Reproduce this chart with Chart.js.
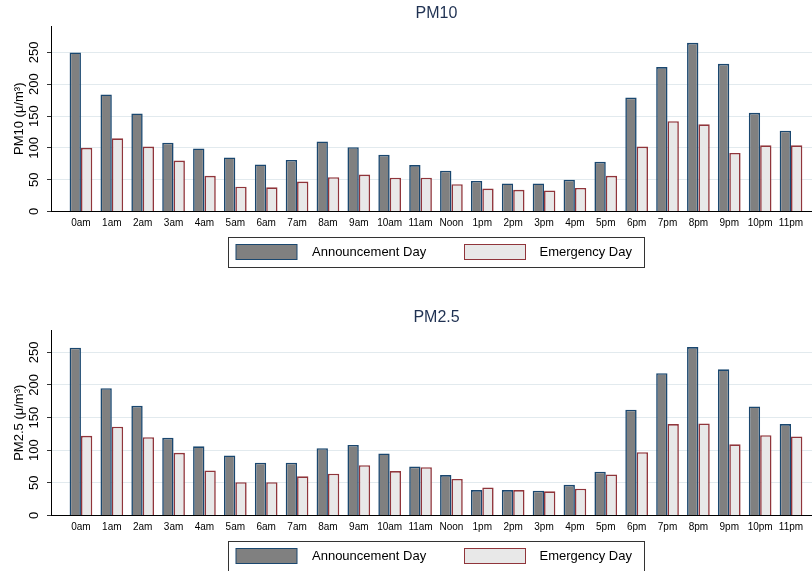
<!DOCTYPE html>
<html>
<head>
<meta charset="utf-8">
<script src="https://cdn.jsdelivr.net/npm/chart.js@4/dist/chart.umd.min.js"></script>
<style>
  html, body { margin: 0; padding: 0; background: #fff; width: 812px; height: 571px; overflow: hidden; }
  canvas { display: block; }
</style>
</head>
<body>
<canvas id="pm10" width="812" height="304"></canvas>
<canvas id="pm25" width="812" height="304"></canvas>
<script>
// Hour-of-day categories
const hours = ['0am','1am','2am','3am','4am','5am','6am','7am','8am','9am','10am','11am',
               'Noon','1pm','2pm','3pm','4pm','5pm','6pm','7pm','8pm','9pm','10pm','11pm'];

// PM10 concentrations (μ/m³)
const pm10Announcement = [250, 184, 154, 108, 99, 85, 74, 81, 110, 101, 89, 73,
                          64, 48, 44, 44, 50, 78, 179, 227, 265, 232, 155, 127];
const pm10Emergency    = [100, 115, 102, 80, 56, 39, 38, 47, 54, 58, 53, 53,
                          43, 36, 34, 33, 37, 56, 102, 142, 137, 92, 104, 104];

// PM2.5 concentrations (μ/m³)
const pm25Announcement = [257, 195, 168, 119, 106, 92, 81, 81, 103, 108, 95, 75,
                          62, 39, 39, 38, 47, 67, 162, 218, 258, 224, 167, 140];
const pm25Emergency    = [122, 136, 120, 96, 69, 51, 51, 60, 64, 77, 68, 74,
                          56, 43, 39, 37, 41, 63, 97, 140, 141, 109, 123, 121];

// Value-axis ticks
const yTicks = [0, 50, 100, 150, 200, 250];

const seriesNames = ['Announcement Day', 'Emergency Day'];

const FONT = '"Liberation Sans", Arial, Helvetica, sans-serif';
const NAVY = '#1a476f';
const MAROON = '#90353b';

// Draws rotated y labels, the heading and the framed legend
const decor = {
  id: 'decor',
  afterDraw(chart, args, opts) {
    const ctx = chart.ctx;
    const area = chart.chartArea;
    const ys = chart.scales.y;
    ctx.save();
    ctx.fillStyle = '#000';
    ctx.textAlign = 'center';
    ctx.textBaseline = 'middle';
    ctx.font = '13px ' + FONT;
    ys.ticks.forEach(t => {
      const py = ys.getPixelForValue(t.value);
      ctx.save();
      ctx.translate(34, py);
      ctx.rotate(-Math.PI / 2);
      ctx.fillText(String(t.value), 0, 0);
      ctx.restore();
    });
    ctx.save();
    ctx.translate(19, (area.top + area.bottom) / 2);
    ctx.rotate(-Math.PI / 2);
    ctx.fillText(opts.yTitle, 0, 0);
    ctx.restore();

    // heading
    ctx.font = '16px ' + FONT;
    ctx.fillStyle = '#1f3152';
    ctx.fillText(opts.title, 436.5, 14);

    // legend frame
    const fx = 228.5, fy = 237.5, fw = 416, fh = 30;
    ctx.strokeStyle = '#333';
    ctx.lineWidth = 1;
    ctx.strokeRect(fx, fy, fw, fh);
    const slots = [{ sx: 7.5, tx: 83.5 }, { sx: 236, tx: 311 }];
    chart.data.datasets.forEach((ds, i) => {
      const s = slots[i];
      ctx.fillStyle = ds.backgroundColor;
      ctx.fillRect(fx + s.sx, fy + 7, 61, 15);
      ctx.strokeStyle = ds.borderColor;
      ctx.lineWidth = 1;
      ctx.strokeRect(fx + s.sx, fy + 7, 61, 15);
      ctx.fillStyle = '#000';
      ctx.font = '13px ' + FONT;
      ctx.textAlign = 'left';
      ctx.fillText(ds.label, fx + s.tx, fy + 15);
    });
    ctx.restore();
  }
};

function makeChart(id, title, yTitle, seriesA, seriesB, yMax) {
  const toPoints = arr => arr.map((v, i) => ({ x: i, y: v }));
  return new Chart(document.getElementById(id), {
    type: 'bar',
    data: {
      datasets: [
        { label: seriesNames[0], data: toPoints(seriesA), backgroundColor: '#808080', borderColor: NAVY, borderWidth: 1.6 },
        { label: seriesNames[1], data: toPoints(seriesB), backgroundColor: '#e8e8e8', borderColor: MAROON, borderWidth: 1.6 }
      ]
    },
    options: {
      responsive: false,
      animation: false,
      devicePixelRatio: 1,
      layout: { padding: { top: 26, bottom: 72.5, left: 0, right: 0 } },
      datasets: { bar: { categoryPercentage: 0.735, barPercentage: 1.0 } },
      plugins: {
        legend: { display: false },
        title: { display: false },
        tooltip: { enabled: false },
        decor: { title, yTitle }
      },
      scales: {
        x: {
          type: 'linear',
          offset: false,
          min: -0.97,
          max: 23.68,
          grid: { display: false, drawTicks: false },
          border: { display: true, color: '#000', width: 1 },
          afterBuildTicks: s => { s.ticks = hours.map((_, i) => ({ value: i })); },
          afterFit: s => { s.height = 20; },
          ticks: {
            autoSkip: false, maxRotation: 0, minRotation: 0, padding: 6,
            color: '#000', font: { family: FONT, size: 10 },
            callback: v => hours[v] ?? ''
          }
        },
        y: {
          min: 0,
          max: yMax,
          afterBuildTicks: s => { s.ticks = yTicks.map(v => ({ value: v })); },
          afterFit: s => { s.width = 51; },
          ticks: { display: false },
          grid: {
            color: c => (c.tick && c.tick.value === 0) ? 'rgba(0,0,0,0)' : '#e2eaee',
            tickColor: '#333',
            tickLength: 4,
            lineWidth: 1
          },
          border: { display: true, color: '#000', width: 1 }
        }
      }
    },
    plugins: [decor]
  });
}

makeChart('pm10', 'PM10', 'PM10 (μ/m³)', pm10Announcement, pm10Emergency, 291.5);
makeChart('pm25', 'PM2.5', 'PM2.5 (μ/m³)', pm25Announcement, pm25Emergency, 284.2);
</script>
</body>
</html>
